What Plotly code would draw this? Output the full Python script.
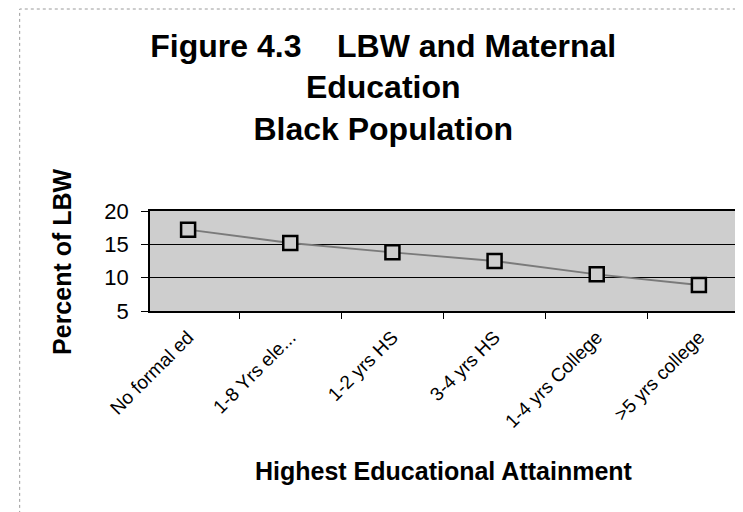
import plotly.graph_objects as go

# data
education = ['No formal ed', '1-8 Yrs ele...', '1-2 yrs HS', '3-4 yrs HS',
             '1-4 yrs College', '>5 yrs college']
pct_lbw = [17.2, 15.2, 13.8, 12.5, 10.5, 8.9]
y_ticks = [5, 10, 15, 20]

FONT = 'Arial, Liberation Sans, sans-serif'
PLOT_BG = '#cecece'

fig = go.Figure()
fig.add_trace(go.Scatter(
    x=education,
    y=pct_lbw,
    mode='lines+markers',
    line=dict(color='#7a7a7a', width=1.8),
    marker=dict(symbol='square', size=14, color=PLOT_BG,
                line=dict(color='black', width=2.5)),
    showlegend=False,
))

fig.update_layout(
    width=743, height=512,
    margin=dict(l=142, r=12, t=203, b=209),
    paper_bgcolor='white',
    plot_bgcolor=PLOT_BG,
    font=dict(family=FONT, color='black'),
    title=dict(
        text='<b>Figure 4.3    LBW and Maternal<br>Education<br>Black Population</b>',
        x=0.505, xref='container', xanchor='center',
        y=0.905, yref='container', yanchor='top',
        font=dict(size=32, family=FONT),
    ),
)

fig.update_xaxes(
    type='category',
    tickangle=-45,
    tickfont=dict(size=19),
    ticks='outside', tickson='boundaries', ticklen=6, tickcolor='black',
    ticklabelstandoff=6,
    showline=True, linecolor='black', linewidth=1.5, mirror=True,
    showgrid=False,
)
fig.update_yaxes(
    range=[5, 20],
    tickvals=y_ticks,
    tickfont=dict(size=22),
    ticks='outside', ticklen=7, tickcolor='black',
    ticklabelstandoff=8,
    showline=True, linecolor='black', linewidth=1.5, mirror=True,
    showgrid=True, gridcolor='black', gridwidth=1,
    zeroline=False,
)

# axis titles
fig.add_annotation(text='<b>Percent of LBW</b>', textangle=-90,
                   xref='paper', yref='paper', x=-0.15, y=0.5,
                   xanchor='center', yanchor='middle',
                   showarrow=False, font=dict(size=25))
fig.add_annotation(text='<b>Highest Educational Attainment</b>',
                   xref='paper', yref='paper', x=0.5, y=-1.6,
                   xanchor='center', yanchor='middle',
                   showarrow=False, font=dict(size=25))

# outer chart frame
fig.add_shape(type='rect', xref='paper', yref='paper',
              x0=-0.222, x1=1.02, y0=-2.1, y1=3.02,
              line=dict(color='#9a9a9a', width=1, dash='dot'), layer='below')

fig.write_html('out.html')
